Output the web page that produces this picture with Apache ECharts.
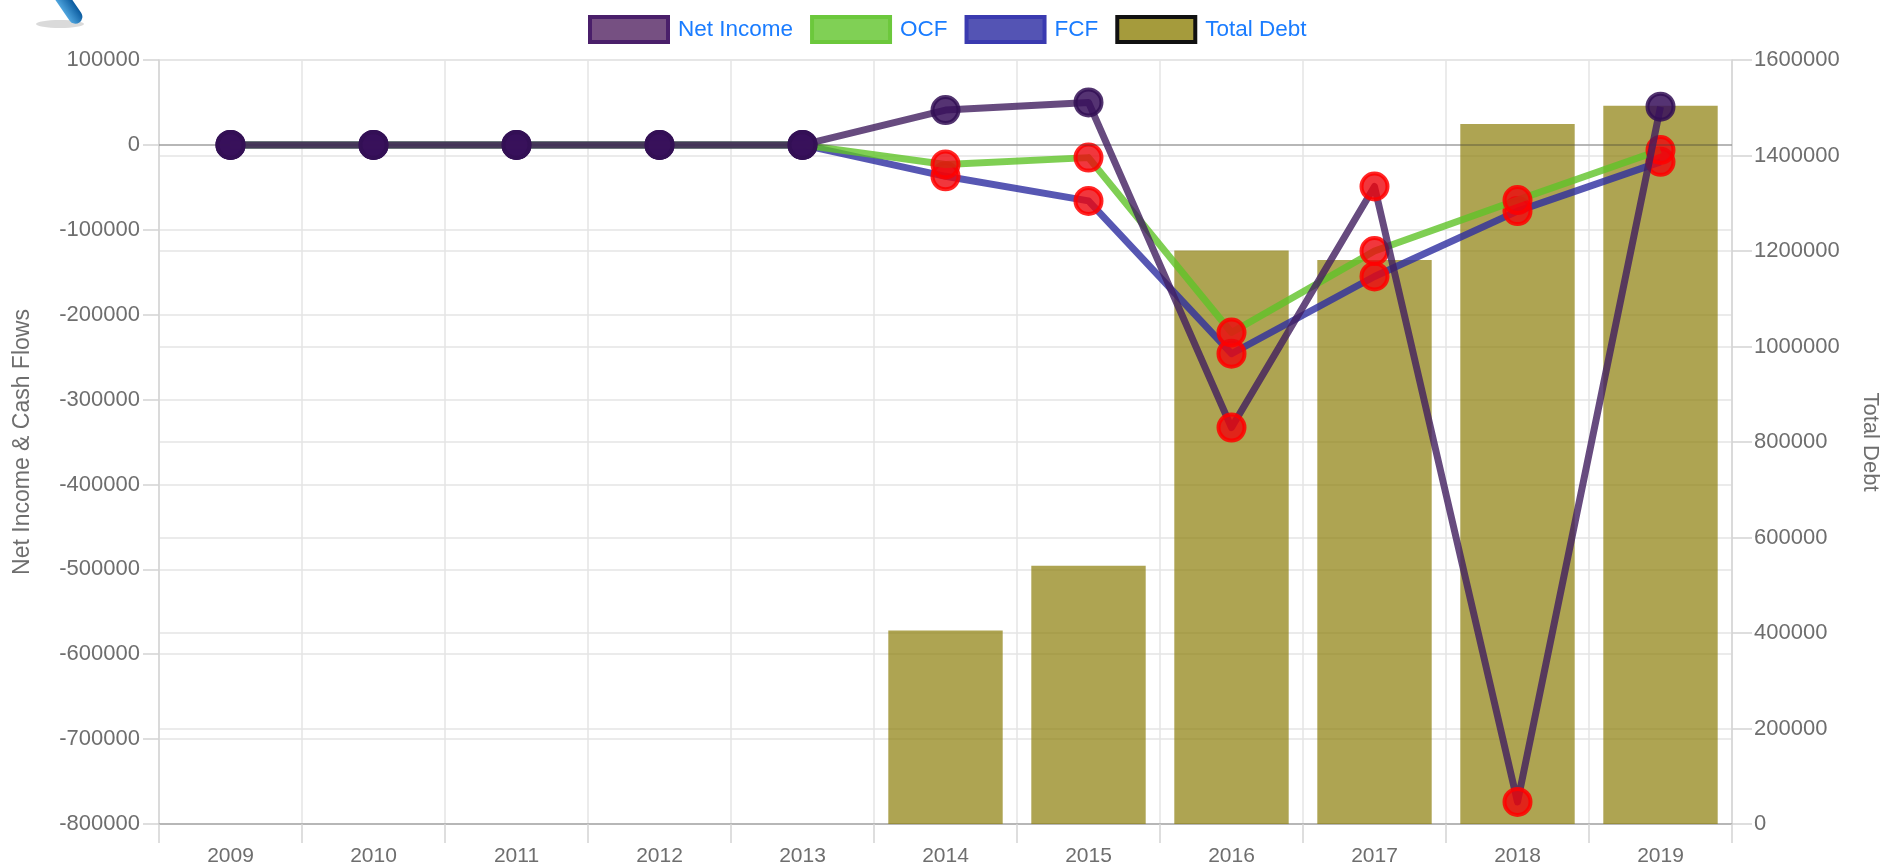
<!DOCTYPE html>
<html><head><meta charset="utf-8">
<style>html,body{margin:0;padding:0;background:#fff}#c{width:1887px;height:868px;filter:blur(0.6px)}</style>
<script src="https://cdn.jsdelivr.net/npm/echarts@6/dist/echarts.min.js"></script>
</head><body><div id="c"></div>
<script>
const years = ['2009','2010','2011','2012','2013','2014','2015','2016','2017','2018','2019'];
const netIncome = [0,0,0,0,0,41000,50000,-333000,-49000,-774000,45000];
const ocf = [0,0,0,0,0,-23000,-15000,-221000,-125000,-65000,-6000];
const fcf = [0,0,0,0,0,-37000,-66000,-246000,-155000,-78000,-20000];
const totalDebt = [0,0,0,0,0,405000,541000,1201000,1181000,1466000,1504000];

const gridColor = '#e4e4e4', tickColor = '#d4d4d4', labelColor = '#6e6e6e', font = 'Liberation Sans';
const pointStyle = v => v < 0
  ? {color:'rgba(238,5,12,0.8)', borderColor:'rgba(255,0,0,0.85)', borderWidth:4}
  : {color:'rgba(55,15,90,0.85)', borderColor:'rgba(50,15,85,0.85)', borderWidth:4};
const lineSeries = (name, values, color, z) => ({
  name, type:'line', yAxisIndex:0, z, symbol:'circle', symbolSize:26, showSymbol:true,
  lineStyle:{color, width:7, join:'round'}, itemStyle:{color},
  data:values.map(v => ({value:v, itemStyle:pointStyle(v)})), animation:false
});
const niSeries = lineSeries('Net Income', netIncome, 'rgba(65,30,95,0.8)', 5);
niSeries.markLine = {silent:true, symbol:'none', animation:false, label:{show:false},
  lineStyle:{color:'rgba(60,60,60,0.4)', width:1.5, type:'solid'}, data:[{yAxis:0}]};
const axisBase = {
  axisLine:{show:true, onZero:false, lineStyle:{color:tickColor, width:1.5}},
  splitLine:{show:true, lineStyle:{color:gridColor, width:1.5}},
  nameLocation:'middle'
};
const yLabel = margin => ({color:labelColor, fontFamily:font, fontSize:22, margin, formatter:v => String(v)});
const legendItem = (name, fill, border) => ({name, icon:'rect',
  itemStyle:{color:fill, borderColor:border, borderWidth:4, opacity:1}});

const chart = echarts.init(document.getElementById('c'), null, {renderer:'canvas'});
chart.setOption({
  backgroundColor:'#fff', animation:false,
  grid:{left:159, right:155, top:60, bottom:44, containLabel:false, outerBoundsMode:'none'},
  legend:{left:583, top:10, itemWidth:78, itemHeight:25, itemGap:17,
    textStyle:{color:'#1a7cff', fontFamily:font, fontSize:22.5, padding:[0,0,0,5]},
    data:[
      legendItem('Net Income','rgba(118,80,130,1)','#4a1f6a'),
      legendItem('OCF','rgba(128,208,85,1)','#6cc83c'),
      legendItem('FCF','rgba(84,84,180,1)','#3a3ab0'),
      legendItem('Total Debt','rgba(165,155,60,1)','#111')
    ]},
  xAxis:{type:'category', data:years, boundaryGap:true, position:'bottom',
    axisLine:{show:true, onZero:false, lineStyle:{color:'#a8a8a8', width:1.5}},
    axisTick:{show:true, alignWithLabel:false, length:19, lineStyle:{color:tickColor, width:1.5}},
    splitLine:{show:true, lineStyle:{color:gridColor, width:1.5}},
    axisLabel:{color:labelColor, fontFamily:font, fontSize:21, margin:22, interval:0}},
  yAxis:[
    Object.assign({}, axisBase, {type:'value', position:'left', min:-800000, max:100000, interval:100000,
      axisTick:{show:true, length:16, lineStyle:{color:tickColor, width:1.5}}, axisLabel:yLabel(19),
      name:'Net Income & Cash Flows', nameGap:125, nameRotate:90,
      nameTextStyle:{color:labelColor, fontFamily:font, fontSize:23}}),
    Object.assign({}, axisBase, {type:'value', position:'right', min:0, max:1600000, interval:200000,
      axisTick:{show:true, length:20, lineStyle:{color:tickColor, width:1.5}}, axisLabel:yLabel(22),
      name:'Total Debt', nameGap:127, nameRotate:-90,
      nameTextStyle:{color:labelColor, fontFamily:font, fontSize:22}})
  ],
  graphic:[
    {type:'ellipse', shape:{cx:60, cy:24, rx:24, ry:4}, style:{fill:'rgba(150,150,150,0.35)'}, z:1},
    {type:'rect', shape:{x:-7, y:-24, width:14, height:44, r:7}, x:68, y:6, rotation:Math.PI/5.2,
      style:{fill:new echarts.graphic.LinearGradient(0,0,1,0,[{offset:0,color:'#4fa5de'},{offset:1,color:'#0a5a9e'}])}, z:2}
  ],
  series:[
    {name:'Total Debt', type:'bar', yAxisIndex:1, z:1, barCategoryGap:'20%',
      itemStyle:{color:'rgba(140,126,9,0.7)'}, data:totalDebt, animation:false},
    lineSeries('FCF', fcf, 'rgba(45,45,160,0.8)', 3),
    lineSeries('OCF', ocf, 'rgba(95,195,40,0.8)', 4),
    niSeries
  ]
});
</script></body></html>
